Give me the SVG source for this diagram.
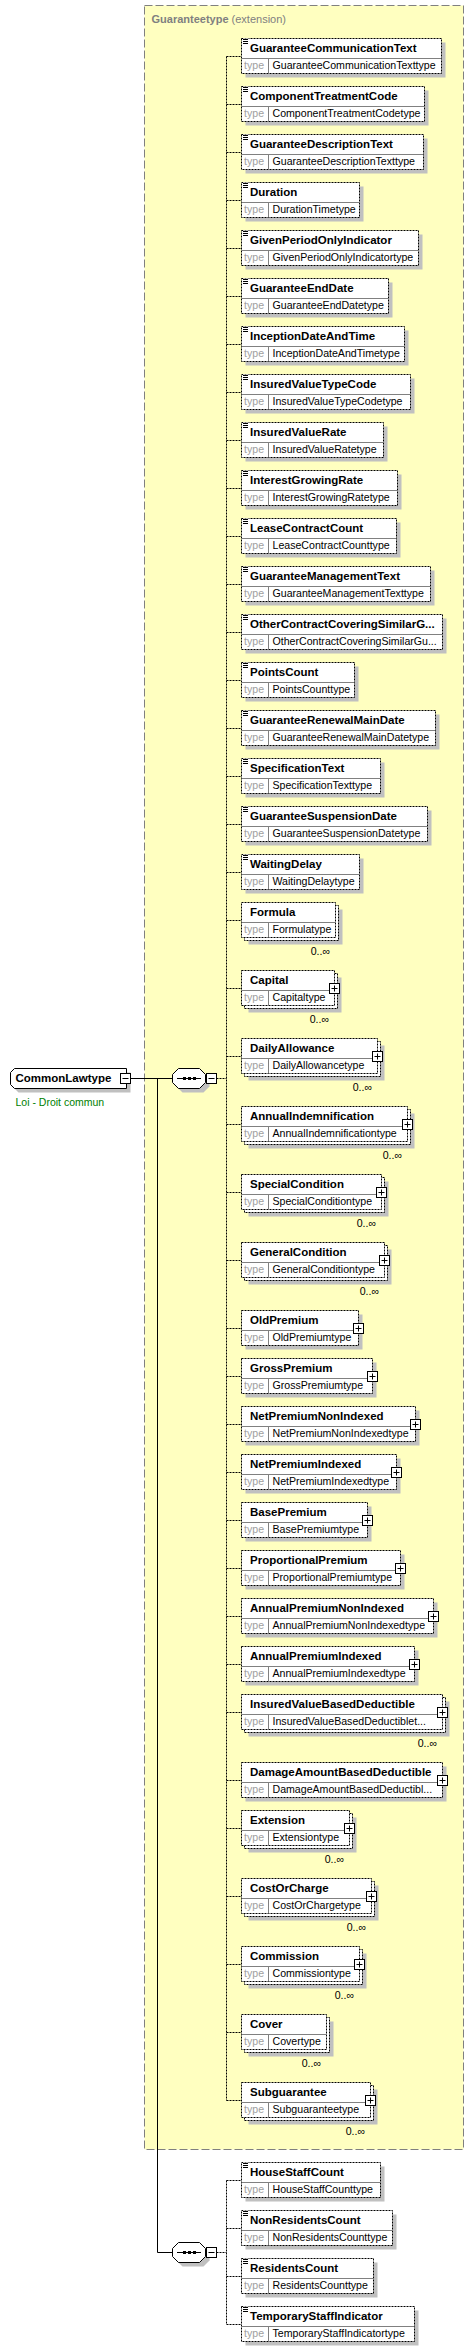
<svg xmlns="http://www.w3.org/2000/svg" width="474" height="2351" viewBox="0 0 474 2351">
<style>
.sh{fill:#c0c0c0}
.bx{fill:#fff;stroke:#000;stroke-dasharray:2,1}
.dv{fill:none;stroke:#808080}
.nm{font-family:"Liberation Sans",Arial,sans-serif;font-weight:bold;font-size:11.5px;fill:#000}
.tl{font-family:"Liberation Sans",Arial,sans-serif;font-size:10.6px;fill:#a0a0a0}
.tv{font-family:"Liberation Sans",Arial,sans-serif;font-size:10.6px;fill:#000}
.oc{font-family:"Liberation Sans",Arial,sans-serif;font-size:10.6px;fill:#000;text-anchor:end}
.cn{fill:none;stroke:#000;stroke-dasharray:2,1}
.ln{fill:none;stroke:#000}
.ext{fill:#ffffc0;stroke:#808080;stroke-dasharray:8,3}
.gt{font-family:"Liberation Sans",Arial,sans-serif;font-size:11px;fill:#808080}
</style>
<defs>
<g id="ic"><rect x="0" y="0.5" width="6" height="6" fill="#fff"/><path d="M0 1.5H5M0 3.5H5M0 5.5H5" stroke="#000"/></g>
<g id="pl"><rect x="0" y="0" width="10" height="10" fill="#fff" stroke="#000"/><path d="M2 5H8M5 2V8" stroke="#000"/></g>
<g id="mi"><rect x="0" y="0" width="10" height="10" fill="#fff" stroke="#000"/><path d="M2 5H8" stroke="#000"/></g>
<path id="oct" d="M6 0H27L33 6V14L27 20H6L0 14V6Z"/>
</defs>

<g id="Guaranteetype">
<rect class="ext" x="144.5" y="5.5" width="319" height="2144"/>
<text class="gt" x="151.5" y="23"><tspan font-weight="bold">Guaranteetype</tspan> (extension)</text>
</g>

<g id="connectors">
<path class="ln" d="M130.5 1078.5H172.5M157.5 1078.5V2252.5H172.5"/>
<path class="cn" d="M216.5 1078.5H226.5M226.5 56.5V2100.5M226.5 56.5H241.5M226.5 104.5H241.5M226.5 152.5H241.5M226.5 200.5H241.5M226.5 248.5H241.5M226.5 296.5H241.5M226.5 344.5H241.5M226.5 392.5H241.5M226.5 440.5H241.5M226.5 488.5H241.5M226.5 536.5H241.5M226.5 584.5H241.5M226.5 632.5H241.5M226.5 680.5H241.5M226.5 728.5H241.5M226.5 776.5H241.5M226.5 824.5H241.5M226.5 872.5H241.5M226.5 920.5H241.5M226.5 988.5H241.5M226.5 1056.5H241.5M226.5 1124.5H241.5M226.5 1192.5H241.5M226.5 1260.5H241.5M226.5 1328.5H241.5M226.5 1376.5H241.5M226.5 1424.5H241.5M226.5 1472.5H241.5M226.5 1520.5H241.5M226.5 1568.5H241.5M226.5 1616.5H241.5M226.5 1664.5H241.5M226.5 1712.5H241.5M226.5 1780.5H241.5M226.5 1828.5H241.5M226.5 1896.5H241.5M226.5 1964.5H241.5M226.5 2032.5H241.5M226.5 2100.5H241.5"/>
<path class="cn" d="M216.5 2252.5H226.5M226.5 2180.5V2324.5M226.5 2180.5H241.5M226.5 2228.5H241.5M226.5 2276.5H241.5M226.5 2324.5H241.5"/>
</g>

<g id="CommonLawtype">
<path class="sh" d="M18.5 1072.5H130.5V1092.5H18.5L14.5 1088.5V1076.5Z"/>
<path fill="#fff" stroke="#000" d="M14.5 1068.5H126.5V1088.5H14.5L10.5 1084.5V1072.5Z"/>
<use href="#mi" x="120.5" y="1073.5"/>
<text class="nm" x="15.5" y="1082">CommonLawtype</text>
<text x="15.5" y="1105.5" font-family="Liberation Sans, Arial, sans-serif" font-size="10.5" fill="#008000">Loi - Droit commun</text>
</g>

<g id="sequence1">
<use href="#oct" x="176.5" y="1072.5" class="sh"/>
<use href="#oct" x="172.5" y="1068.5" fill="#fff" stroke="#000"/>
<path class="ln" d="M177 1078.5H201"/>
<rect x="183" y="1077" width="3" height="3"/><rect x="188" y="1077" width="3" height="3"/><rect x="193" y="1077" width="3" height="3"/>
<use href="#mi" x="206.5" y="1073.5"/>
</g>

<g id="sequence2">
<use href="#oct" x="176.5" y="2246.5" class="sh"/>
<use href="#oct" x="172.5" y="2242.5" fill="#fff" stroke="#000"/>
<path class="ln" d="M177 2252.5H201"/>
<rect x="183" y="2251" width="3" height="3"/><rect x="188" y="2251" width="3" height="3"/><rect x="193" y="2251" width="3" height="3"/>
<use href="#mi" x="206.5" y="2247.5"/>
</g>

<g id="GuaranteeCommunicationText"><rect class="sh" x="245.5" y="42.5" width="200" height="35"/><rect class="bx" x="241.5" y="38.5" width="200" height="35"/><path class="dv" d="M241.5 58.5H441.5M268.5 58.5V73.5"/><use href="#ic" x="243" y="38"/><text class="nm" x="250" y="52">GuaranteeCommunicationText</text><text class="tl" x="244" y="69">type</text><text class="tv" x="272.5" y="69">GuaranteeCommunicationTexttype</text></g>
<g id="ComponentTreatmentCode"><rect class="sh" x="245.5" y="90.5" width="183" height="35"/><rect class="bx" x="241.5" y="86.5" width="183" height="35"/><path class="dv" d="M241.5 106.5H424.5M268.5 106.5V121.5"/><use href="#ic" x="243" y="86"/><text class="nm" x="250" y="100">ComponentTreatmentCode</text><text class="tl" x="244" y="117">type</text><text class="tv" x="272.5" y="117">ComponentTreatmentCodetype</text></g>
<g id="GuaranteeDescriptionText"><rect class="sh" x="245.5" y="138.5" width="182" height="35"/><rect class="bx" x="241.5" y="134.5" width="182" height="35"/><path class="dv" d="M241.5 154.5H423.5M268.5 154.5V169.5"/><use href="#ic" x="243" y="134"/><text class="nm" x="250" y="148">GuaranteeDescriptionText</text><text class="tl" x="244" y="165">type</text><text class="tv" x="272.5" y="165">GuaranteeDescriptionTexttype</text></g>
<g id="Duration"><rect class="sh" x="245.5" y="186.5" width="118" height="35"/><rect class="bx" x="241.5" y="182.5" width="118" height="35"/><path class="dv" d="M241.5 202.5H359.5M268.5 202.5V217.5"/><use href="#ic" x="243" y="182"/><text class="nm" x="250" y="196">Duration</text><text class="tl" x="244" y="213">type</text><text class="tv" x="272.5" y="213">DurationTimetype</text></g>
<g id="GivenPeriodOnlyIndicator"><rect class="sh" x="245.5" y="234.5" width="177" height="35"/><rect class="bx" x="241.5" y="230.5" width="177" height="35"/><path class="dv" d="M241.5 250.5H418.5M268.5 250.5V265.5"/><use href="#ic" x="243" y="230"/><text class="nm" x="250" y="244">GivenPeriodOnlyIndicator</text><text class="tl" x="244" y="261">type</text><text class="tv" x="272.5" y="261">GivenPeriodOnlyIndicatortype</text></g>
<g id="GuaranteeEndDate"><rect class="sh" x="245.5" y="282.5" width="147" height="35"/><rect class="bx" x="241.5" y="278.5" width="147" height="35"/><path class="dv" d="M241.5 298.5H388.5M268.5 298.5V313.5"/><use href="#ic" x="243" y="278"/><text class="nm" x="250" y="292">GuaranteeEndDate</text><text class="tl" x="244" y="309">type</text><text class="tv" x="272.5" y="309">GuaranteeEndDatetype</text></g>
<g id="InceptionDateAndTime"><rect class="sh" x="245.5" y="330.5" width="163" height="35"/><rect class="bx" x="241.5" y="326.5" width="163" height="35"/><path class="dv" d="M241.5 346.5H404.5M268.5 346.5V361.5"/><use href="#ic" x="243" y="326"/><text class="nm" x="250" y="340">InceptionDateAndTime</text><text class="tl" x="244" y="357">type</text><text class="tv" x="272.5" y="357">InceptionDateAndTimetype</text></g>
<g id="InsuredValueTypeCode"><rect class="sh" x="245.5" y="378.5" width="169" height="35"/><rect class="bx" x="241.5" y="374.5" width="169" height="35"/><path class="dv" d="M241.5 394.5H410.5M268.5 394.5V409.5"/><use href="#ic" x="243" y="374"/><text class="nm" x="250" y="388">InsuredValueTypeCode</text><text class="tl" x="244" y="405">type</text><text class="tv" x="272.5" y="405">InsuredValueTypeCodetype</text></g>
<g id="InsuredValueRate"><rect class="sh" x="245.5" y="426.5" width="142" height="35"/><rect class="bx" x="241.5" y="422.5" width="142" height="35"/><path class="dv" d="M241.5 442.5H383.5M268.5 442.5V457.5"/><use href="#ic" x="243" y="422"/><text class="nm" x="250" y="436">InsuredValueRate</text><text class="tl" x="244" y="453">type</text><text class="tv" x="272.5" y="453">InsuredValueRatetype</text></g>
<g id="InterestGrowingRate"><rect class="sh" x="245.5" y="474.5" width="156" height="35"/><rect class="bx" x="241.5" y="470.5" width="156" height="35"/><path class="dv" d="M241.5 490.5H397.5M268.5 490.5V505.5"/><use href="#ic" x="243" y="470"/><text class="nm" x="250" y="484">InterestGrowingRate</text><text class="tl" x="244" y="501">type</text><text class="tv" x="272.5" y="501">InterestGrowingRatetype</text></g>
<g id="LeaseContractCount"><rect class="sh" x="245.5" y="522.5" width="155" height="35"/><rect class="bx" x="241.5" y="518.5" width="155" height="35"/><path class="dv" d="M241.5 538.5H396.5M268.5 538.5V553.5"/><use href="#ic" x="243" y="518"/><text class="nm" x="250" y="532">LeaseContractCount</text><text class="tl" x="244" y="549">type</text><text class="tv" x="272.5" y="549">LeaseContractCounttype</text></g>
<g id="GuaranteeManagementText"><rect class="sh" x="245.5" y="570.5" width="189" height="35"/><rect class="bx" x="241.5" y="566.5" width="189" height="35"/><path class="dv" d="M241.5 586.5H430.5M268.5 586.5V601.5"/><use href="#ic" x="243" y="566"/><text class="nm" x="250" y="580">GuaranteeManagementText</text><text class="tl" x="244" y="597">type</text><text class="tv" x="272.5" y="597">GuaranteeManagementTexttype</text></g>
<g id="OtherContractCoveringSimilarGuarantee"><rect class="sh" x="245.5" y="618.5" width="201" height="35"/><rect class="bx" x="241.5" y="614.5" width="201" height="35"/><path class="dv" d="M241.5 634.5H442.5M268.5 634.5V649.5"/><use href="#ic" x="243" y="614"/><text class="nm" x="250" y="628">OtherContractCoveringSimilarG...</text><text class="tl" x="244" y="645">type</text><text class="tv" x="272.5" y="645">OtherContractCoveringSimilarGu...</text></g>
<g id="PointsCount"><rect class="sh" x="245.5" y="666.5" width="113" height="35"/><rect class="bx" x="241.5" y="662.5" width="113" height="35"/><path class="dv" d="M241.5 682.5H354.5M268.5 682.5V697.5"/><use href="#ic" x="243" y="662"/><text class="nm" x="250" y="676">PointsCount</text><text class="tl" x="244" y="693">type</text><text class="tv" x="272.5" y="693">PointsCounttype</text></g>
<g id="GuaranteeRenewalMainDate"><rect class="sh" x="245.5" y="714.5" width="194" height="35"/><rect class="bx" x="241.5" y="710.5" width="194" height="35"/><path class="dv" d="M241.5 730.5H435.5M268.5 730.5V745.5"/><use href="#ic" x="243" y="710"/><text class="nm" x="250" y="724">GuaranteeRenewalMainDate</text><text class="tl" x="244" y="741">type</text><text class="tv" x="272.5" y="741">GuaranteeRenewalMainDatetype</text></g>
<g id="SpecificationText"><rect class="sh" x="245.5" y="762.5" width="139" height="35"/><rect class="bx" x="241.5" y="758.5" width="139" height="35"/><path class="dv" d="M241.5 778.5H380.5M268.5 778.5V793.5"/><use href="#ic" x="243" y="758"/><text class="nm" x="250" y="772">SpecificationText</text><text class="tl" x="244" y="789">type</text><text class="tv" x="272.5" y="789">SpecificationTexttype</text></g>
<g id="GuaranteeSuspensionDate"><rect class="sh" x="245.5" y="810.5" width="186" height="35"/><rect class="bx" x="241.5" y="806.5" width="186" height="35"/><path class="dv" d="M241.5 826.5H427.5M268.5 826.5V841.5"/><use href="#ic" x="243" y="806"/><text class="nm" x="250" y="820">GuaranteeSuspensionDate</text><text class="tl" x="244" y="837">type</text><text class="tv" x="272.5" y="837">GuaranteeSuspensionDatetype</text></g>
<g id="WaitingDelay"><rect class="sh" x="245.5" y="858.5" width="118" height="35"/><rect class="bx" x="241.5" y="854.5" width="118" height="35"/><path class="dv" d="M241.5 874.5H359.5M268.5 874.5V889.5"/><use href="#ic" x="243" y="854"/><text class="nm" x="250" y="868">WaitingDelay</text><text class="tl" x="244" y="885">type</text><text class="tv" x="272.5" y="885">WaitingDelaytype</text></g>

<g id="Formula"><rect class="sh" x="248.5" y="909.5" width="94" height="35"/><rect class="bx" x="244.5" y="905.5" width="94" height="35"/><rect class="bx" x="241.5" y="902.5" width="94" height="35"/><path class="dv" d="M241.5 922.5H335.5M268.5 922.5V937.5"/><text class="nm" x="250" y="916">Formula</text><text class="tl" x="244" y="933">type</text><text class="tv" x="272.5" y="933">Formulatype</text><text class="oc" x="330" y="954.5">0..∞</text></g>
<g id="Capital"><rect class="sh" x="248.5" y="977.5" width="93" height="35"/><rect class="bx" x="244.5" y="973.5" width="93" height="35"/><rect class="bx" x="241.5" y="970.5" width="93" height="35"/><path class="dv" d="M241.5 990.5H334.5M268.5 990.5V1005.5"/><use href="#pl" x="329.5" y="983.5"/><text class="nm" x="250" y="984">Capital</text><text class="tl" x="244" y="1001">type</text><text class="tv" x="272.5" y="1001">Capitaltype</text><text class="oc" x="329" y="1022.5">0..∞</text></g>
<g id="DailyAllowance"><rect class="sh" x="248.5" y="1045.5" width="136" height="35"/><rect class="bx" x="244.5" y="1041.5" width="136" height="35"/><rect class="bx" x="241.5" y="1038.5" width="136" height="35"/><path class="dv" d="M241.5 1058.5H377.5M268.5 1058.5V1073.5"/><use href="#pl" x="372.5" y="1051.5"/><text class="nm" x="250" y="1052">DailyAllowance</text><text class="tl" x="244" y="1069">type</text><text class="tv" x="272.5" y="1069">DailyAllowancetype</text><text class="oc" x="372" y="1090.5">0..∞</text></g>
<g id="AnnualIndemnification"><rect class="sh" x="248.5" y="1113.5" width="166" height="35"/><rect class="bx" x="244.5" y="1109.5" width="166" height="35"/><rect class="bx" x="241.5" y="1106.5" width="166" height="35"/><path class="dv" d="M241.5 1126.5H407.5M268.5 1126.5V1141.5"/><use href="#pl" x="402.5" y="1119.5"/><text class="nm" x="250" y="1120">AnnualIndemnification</text><text class="tl" x="244" y="1137">type</text><text class="tv" x="272.5" y="1137">AnnualIndemnificationtype</text><text class="oc" x="402" y="1158.5">0..∞</text></g>
<g id="SpecialCondition"><rect class="sh" x="248.5" y="1181.5" width="140" height="35"/><rect class="bx" x="244.5" y="1177.5" width="140" height="35"/><rect class="bx" x="241.5" y="1174.5" width="140" height="35"/><path class="dv" d="M241.5 1194.5H381.5M268.5 1194.5V1209.5"/><use href="#pl" x="376.5" y="1187.5"/><text class="nm" x="250" y="1188">SpecialCondition</text><text class="tl" x="244" y="1205">type</text><text class="tv" x="272.5" y="1205">SpecialConditiontype</text><text class="oc" x="376" y="1226.5">0..∞</text></g>
<g id="GeneralCondition"><rect class="sh" x="248.5" y="1249.5" width="143" height="35"/><rect class="bx" x="244.5" y="1245.5" width="143" height="35"/><rect class="bx" x="241.5" y="1242.5" width="143" height="35"/><path class="dv" d="M241.5 1262.5H384.5M268.5 1262.5V1277.5"/><use href="#pl" x="379.5" y="1255.5"/><text class="nm" x="250" y="1256">GeneralCondition</text><text class="tl" x="244" y="1273">type</text><text class="tv" x="272.5" y="1273">GeneralConditiontype</text><text class="oc" x="379" y="1294.5">0..∞</text></g>

<g id="OldPremium"><rect class="sh" x="245.5" y="1314.5" width="117" height="35"/><rect class="bx" x="241.5" y="1310.5" width="117" height="35"/><path class="dv" d="M241.5 1330.5H358.5M268.5 1330.5V1345.5"/><use href="#pl" x="353.5" y="1323.5"/><text class="nm" x="250" y="1324">OldPremium</text><text class="tl" x="244" y="1341">type</text><text class="tv" x="272.5" y="1341">OldPremiumtype</text></g>
<g id="GrossPremium"><rect class="sh" x="245.5" y="1362.5" width="131" height="35"/><rect class="bx" x="241.5" y="1358.5" width="131" height="35"/><path class="dv" d="M241.5 1378.5H372.5M268.5 1378.5V1393.5"/><use href="#pl" x="367.5" y="1371.5"/><text class="nm" x="250" y="1372">GrossPremium</text><text class="tl" x="244" y="1389">type</text><text class="tv" x="272.5" y="1389">GrossPremiumtype</text></g>
<g id="NetPremiumNonIndexed"><rect class="sh" x="245.5" y="1410.5" width="174" height="35"/><rect class="bx" x="241.5" y="1406.5" width="174" height="35"/><path class="dv" d="M241.5 1426.5H415.5M268.5 1426.5V1441.5"/><use href="#pl" x="410.5" y="1419.5"/><text class="nm" x="250" y="1420">NetPremiumNonIndexed</text><text class="tl" x="244" y="1437">type</text><text class="tv" x="272.5" y="1437">NetPremiumNonIndexedtype</text></g>
<g id="NetPremiumIndexed"><rect class="sh" x="245.5" y="1458.5" width="155" height="35"/><rect class="bx" x="241.5" y="1454.5" width="155" height="35"/><path class="dv" d="M241.5 1474.5H396.5M268.5 1474.5V1489.5"/><use href="#pl" x="391.5" y="1467.5"/><text class="nm" x="250" y="1468">NetPremiumIndexed</text><text class="tl" x="244" y="1485">type</text><text class="tv" x="272.5" y="1485">NetPremiumIndexedtype</text></g>
<g id="BasePremium"><rect class="sh" x="245.5" y="1506.5" width="126" height="35"/><rect class="bx" x="241.5" y="1502.5" width="126" height="35"/><path class="dv" d="M241.5 1522.5H367.5M268.5 1522.5V1537.5"/><use href="#pl" x="362.5" y="1515.5"/><text class="nm" x="250" y="1516">BasePremium</text><text class="tl" x="244" y="1533">type</text><text class="tv" x="272.5" y="1533">BasePremiumtype</text></g>
<g id="ProportionalPremium"><rect class="sh" x="245.5" y="1554.5" width="159" height="35"/><rect class="bx" x="241.5" y="1550.5" width="159" height="35"/><path class="dv" d="M241.5 1570.5H400.5M268.5 1570.5V1585.5"/><use href="#pl" x="395.5" y="1563.5"/><text class="nm" x="250" y="1564">ProportionalPremium</text><text class="tl" x="244" y="1581">type</text><text class="tv" x="272.5" y="1581">ProportionalPremiumtype</text></g>
<g id="AnnualPremiumNonIndexed"><rect class="sh" x="245.5" y="1602.5" width="192" height="35"/><rect class="bx" x="241.5" y="1598.5" width="192" height="35"/><path class="dv" d="M241.5 1618.5H433.5M268.5 1618.5V1633.5"/><use href="#pl" x="428.5" y="1611.5"/><text class="nm" x="250" y="1612">AnnualPremiumNonIndexed</text><text class="tl" x="244" y="1629">type</text><text class="tv" x="272.5" y="1629">AnnualPremiumNonIndexedtype</text></g>
<g id="AnnualPremiumIndexed"><rect class="sh" x="245.5" y="1650.5" width="173" height="35"/><rect class="bx" x="241.5" y="1646.5" width="173" height="35"/><path class="dv" d="M241.5 1666.5H414.5M268.5 1666.5V1681.5"/><use href="#pl" x="409.5" y="1659.5"/><text class="nm" x="250" y="1660">AnnualPremiumIndexed</text><text class="tl" x="244" y="1677">type</text><text class="tv" x="272.5" y="1677">AnnualPremiumIndexedtype</text></g>
<g id="InsuredValueBasedDeductible"><rect class="sh" x="248.5" y="1701.5" width="201" height="35"/><rect class="bx" x="244.5" y="1697.5" width="201" height="35"/><rect class="bx" x="241.5" y="1694.5" width="201" height="35"/><path class="dv" d="M241.5 1714.5H442.5M268.5 1714.5V1729.5"/><use href="#pl" x="437.5" y="1707.5"/><text class="nm" x="250" y="1708">InsuredValueBasedDeductible</text><text class="tl" x="244" y="1725">type</text><text class="tv" x="272.5" y="1725">InsuredValueBasedDeductiblet...</text><text class="oc" x="437" y="1746.5">0..∞</text></g>
<g id="DamageAmountBasedDeductible"><rect class="sh" x="245.5" y="1766.5" width="201" height="35"/><rect class="bx" x="241.5" y="1762.5" width="201" height="35"/><path class="dv" d="M241.5 1782.5H442.5M268.5 1782.5V1797.5"/><use href="#pl" x="437.5" y="1775.5"/><text class="nm" x="250" y="1776">DamageAmountBasedDeductible</text><text class="tl" x="244" y="1793">type</text><text class="tv" x="272.5" y="1793">DamageAmountBasedDeductibl...</text></g>
<g id="Extension"><rect class="sh" x="248.5" y="1817.5" width="108" height="35"/><rect class="bx" x="244.5" y="1813.5" width="108" height="35"/><rect class="bx" x="241.5" y="1810.5" width="108" height="35"/><path class="dv" d="M241.5 1830.5H349.5M268.5 1830.5V1845.5"/><use href="#pl" x="344.5" y="1823.5"/><text class="nm" x="250" y="1824">Extension</text><text class="tl" x="244" y="1841">type</text><text class="tv" x="272.5" y="1841">Extensiontype</text><text class="oc" x="344" y="1862.5">0..∞</text></g>
<g id="CostOrCharge"><rect class="sh" x="248.5" y="1885.5" width="130" height="35"/><rect class="bx" x="244.5" y="1881.5" width="130" height="35"/><rect class="bx" x="241.5" y="1878.5" width="130" height="35"/><path class="dv" d="M241.5 1898.5H371.5M268.5 1898.5V1913.5"/><use href="#pl" x="366.5" y="1891.5"/><text class="nm" x="250" y="1892">CostOrCharge</text><text class="tl" x="244" y="1909">type</text><text class="tv" x="272.5" y="1909">CostOrChargetype</text><text class="oc" x="366" y="1930.5">0..∞</text></g>
<g id="Commission"><rect class="sh" x="248.5" y="1953.5" width="118" height="35"/><rect class="bx" x="244.5" y="1949.5" width="118" height="35"/><rect class="bx" x="241.5" y="1946.5" width="118" height="35"/><path class="dv" d="M241.5 1966.5H359.5M268.5 1966.5V1981.5"/><use href="#pl" x="354.5" y="1959.5"/><text class="nm" x="250" y="1960">Commission</text><text class="tl" x="244" y="1977">type</text><text class="tv" x="272.5" y="1977">Commissiontype</text><text class="oc" x="354" y="1998.5">0..∞</text></g>
<g id="Cover"><rect class="sh" x="248.5" y="2021.5" width="85" height="35"/><rect class="bx" x="244.5" y="2017.5" width="85" height="35"/><rect class="bx" x="241.5" y="2014.5" width="85" height="35"/><path class="dv" d="M241.5 2034.5H326.5M268.5 2034.5V2049.5"/><text class="nm" x="250" y="2028">Cover</text><text class="tl" x="244" y="2045">type</text><text class="tv" x="272.5" y="2045">Covertype</text><text class="oc" x="321" y="2066.5">0..∞</text></g>
<g id="Subguarantee"><rect class="sh" x="248.5" y="2089.5" width="129" height="35"/><rect class="bx" x="244.5" y="2085.5" width="129" height="35"/><rect class="bx" x="241.5" y="2082.5" width="129" height="35"/><path class="dv" d="M241.5 2102.5H370.5M268.5 2102.5V2117.5"/><use href="#pl" x="365.5" y="2095.5"/><text class="nm" x="250" y="2096">Subguarantee</text><text class="tl" x="244" y="2113">type</text><text class="tv" x="272.5" y="2113">Subguaranteetype</text><text class="oc" x="365" y="2134.5">0..∞</text></g>

<g id="HouseStaffCount"><rect class="sh" x="245.5" y="2166.5" width="139" height="35"/><rect class="bx" x="241.5" y="2162.5" width="139" height="35"/><path class="dv" d="M241.5 2182.5H380.5M268.5 2182.5V2197.5"/><use href="#ic" x="243" y="2162"/><text class="nm" x="250" y="2176">HouseStaffCount</text><text class="tl" x="244" y="2193">type</text><text class="tv" x="272.5" y="2193">HouseStaffCounttype</text></g>
<g id="NonResidentsCount"><rect class="sh" x="245.5" y="2214.5" width="151" height="35"/><rect class="bx" x="241.5" y="2210.5" width="151" height="35"/><path class="dv" d="M241.5 2230.5H392.5M268.5 2230.5V2245.5"/><use href="#ic" x="243" y="2210"/><text class="nm" x="250" y="2224">NonResidentsCount</text><text class="tl" x="244" y="2241">type</text><text class="tv" x="272.5" y="2241">NonResidentsCounttype</text></g>
<g id="ResidentsCount"><rect class="sh" x="245.5" y="2262.5" width="132" height="35"/><rect class="bx" x="241.5" y="2258.5" width="132" height="35"/><path class="dv" d="M241.5 2278.5H373.5M268.5 2278.5V2293.5"/><use href="#ic" x="243" y="2258"/><text class="nm" x="250" y="2272">ResidentsCount</text><text class="tl" x="244" y="2289">type</text><text class="tv" x="272.5" y="2289">ResidentsCounttype</text></g>
<g id="TemporaryStaffIndicator"><rect class="sh" x="245.5" y="2310.5" width="173" height="35"/><rect class="bx" x="241.5" y="2306.5" width="173" height="35"/><path class="dv" d="M241.5 2326.5H414.5M268.5 2326.5V2341.5"/><use href="#ic" x="243" y="2306"/><text class="nm" x="250" y="2320">TemporaryStaffIndicator</text><text class="tl" x="244" y="2337">type</text><text class="tv" x="272.5" y="2337">TemporaryStaffIndicatortype</text></g>
</svg>
